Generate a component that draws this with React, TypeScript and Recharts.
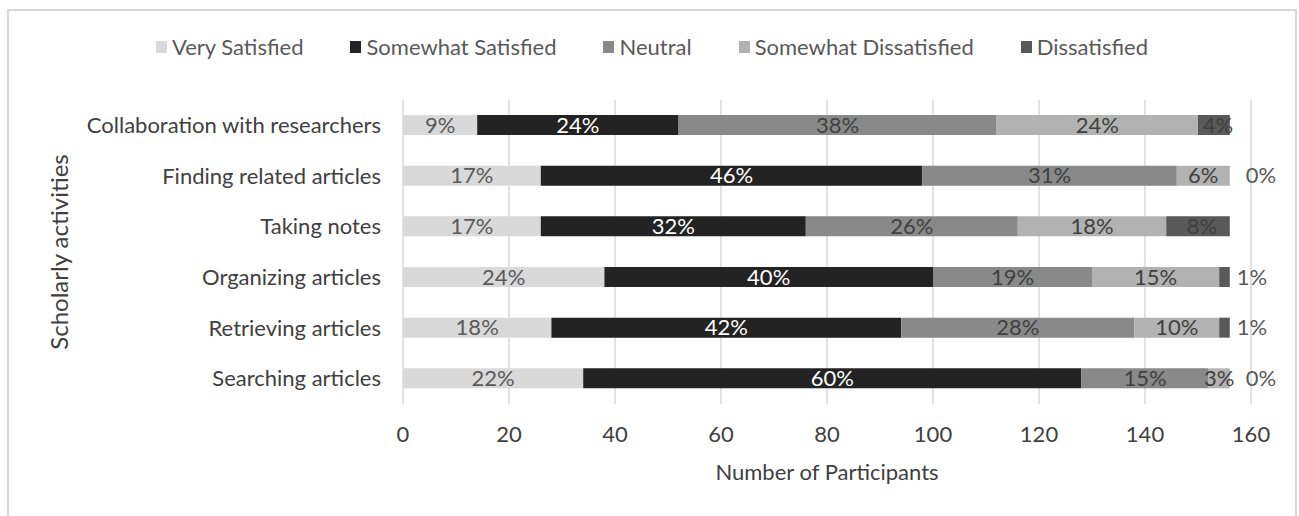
import React from "react";
import {
  BarChart,
  Bar,
  XAxis,
  YAxis,
  CartesianGrid,
  LabelList,
} from "recharts";

const categories = [
  "Collaboration with researchers",
  "Finding related articles",
  "Taking notes",
  "Organizing articles",
  "Retrieving articles",
  "Searching articles",
];

const verySatisfied = [14, 26, 26, 38, 28, 34];
const somewhatSatisfied = [38, 72, 50, 62, 66, 94];
const neutral = [60, 48, 40, 30, 44, 24];
const somewhatDissatisfied = [38, 10, 28, 24, 16, 4];
const dissatisfied = [6, 0, 12, 2, 2, 0];

const xTicks = [0, 20, 40, 60, 80, 100, 120, 140, 160];

const FONT = "Lato, 'Open Sans', sans-serif";
const FS = 22;

const SERIES = [
  { key: "vs", name: "Very Satisfied", values: verySatisfied, fill: "#d9d9d9", text: "#595959" },
  { key: "ss", name: "Somewhat Satisfied", values: somewhatSatisfied, fill: "#232323", text: "#ffffff" },
  { key: "ne", name: "Neutral", values: neutral, fill: "#898989", text: "#404040" },
  { key: "sd", name: "Somewhat Dissatisfied", values: somewhatDissatisfied, fill: "#b2b2b2", text: "#404040" },
  { key: "di", name: "Dissatisfied", values: dissatisfied, fill: "#595959", text: "#404040" },
];

const rows = categories.map((cat, i) => {
  const total = SERIES.reduce((s, se) => s + se.values[i], 0);
  const row: Record<string, string | number> = { cat };
  SERIES.forEach((se) => {
    row[se.key] = se.values[i];
    row[se.key + "Pct"] = Math.round((se.values[i] / total) * 100) + "%";
  });
  return row;
});

function pctText(x: number, y: number, value: any, color: string, anchor: string) {
  return (
    <text
      x={x}
      y={y}
      dy="0.35em"
      textAnchor={anchor}
      fill={color}
      fontSize={FS}
      fontFamily={FONT}
    >
      {value}
    </text>
  );
}

function makeLabel(key: string, color: string) {
  return (props: any) => {
    const x = Number(props.x);
    const w = Number(props.width);
    const cy = Number(props.y) + Number(props.height) / 2;
    const idx = props.index;
    if (key === "di") {
      if (w < 14) return pctText(x + w + 7, cy, props.value, "#595959", "start");
      return pctText(x + w / 2 + 4, cy, props.value, color, "middle");
    }
    const centre = pctText(x + w / 2, cy, props.value, color, "middle");
    // zero-width Dissatisfied segments draw nothing, so put their label here
    if (key === "sd" && idx != null && dissatisfied[idx] === 0) {
      return (
        <g>
          {centre}
          {pctText(x + w + 16, cy, rows[idx].diPct, "#595959", "start")}
        </g>
      );
    }
    return centre;
  };
}

function LegendBox() {
  return (
    <div
      style={{
        position: "absolute",
        top: 23,
        left: 0,
        width: "100%",
        display: "flex",
        justifyContent: "center",
        gap: 47,
        fontFamily: FONT,
        fontSize: FS,
        color: "#595959",
        lineHeight: "26px",
      }}
    >
      {SERIES.map((s) => (
        <div key={s.key} style={{ display: "flex", alignItems: "center" }}>
          <span
            style={{
              display: "inline-block",
              width: 11,
              height: 12,
              background: s.fill,
              marginRight: 5,
            }}
          />
          <span>{s.name}</span>
        </div>
      ))}
    </div>
  );
}

export default function App() {
  return (
    <div
      style={{
        position: "absolute",
        left: 7,
        top: 9,
        width: 1290,
        height: 507,
        boxSizing: "border-box",
        borderTop: "2px solid #d9d9d9",
        borderLeft: "2px solid #d9d9d9",
        borderRight: "2px solid #d9d9d9",
        background: "#fff",
      }}
    >
      <LegendBox />
      <BarChart
        width={1286}
        height={505}
        data={rows}
        layout="vertical"
        barSize={20}
        margin={{ top: 89, right: 44, left: 0, bottom: 32 }}
      >
        <CartesianGrid horizontal={false} stroke="#d9d9d9" strokeWidth={1.5} />
        <XAxis
          type="number"
          domain={[0, 160]}
          ticks={xTicks}
          axisLine={false}
          tickLine={false}
          tickSize={0}
          tickMargin={22}
          height={80}
          tick={{ fontSize: FS, fill: "#404040", fontFamily: FONT }}
          label={{
            value: "Number of Participants",
            position: "insideBottom",
            offset: 4,
            fontSize: FS,
            fill: "#404040",
            fontFamily: FONT,
          }}
        />
        <YAxis
          type="category"
          dataKey="cat"
          width={394}
          axisLine={false}
          tickLine={false}
          tickSize={0}
          tickMargin={22}
          tick={{ fontSize: FS, fill: "#404040", fontFamily: FONT }}
          label={{
            value: "Scholarly activities",
            angle: -90,
            position: "insideLeft",
            offset: 50,
            fontSize: 24,
            fill: "#404040",
            fontFamily: FONT,
            style: { textAnchor: "middle" },
          }}
        />
        {SERIES.map((s) => (
          <Bar
            key={s.key}
            dataKey={s.key}
            name={s.name}
            stackId="a"
            fill={s.fill}
            isAnimationActive={false}
          >
            <LabelList dataKey={s.key + "Pct"} content={makeLabel(s.key, s.text)} />
          </Bar>
        ))}
      </BarChart>
    </div>
  );
}
